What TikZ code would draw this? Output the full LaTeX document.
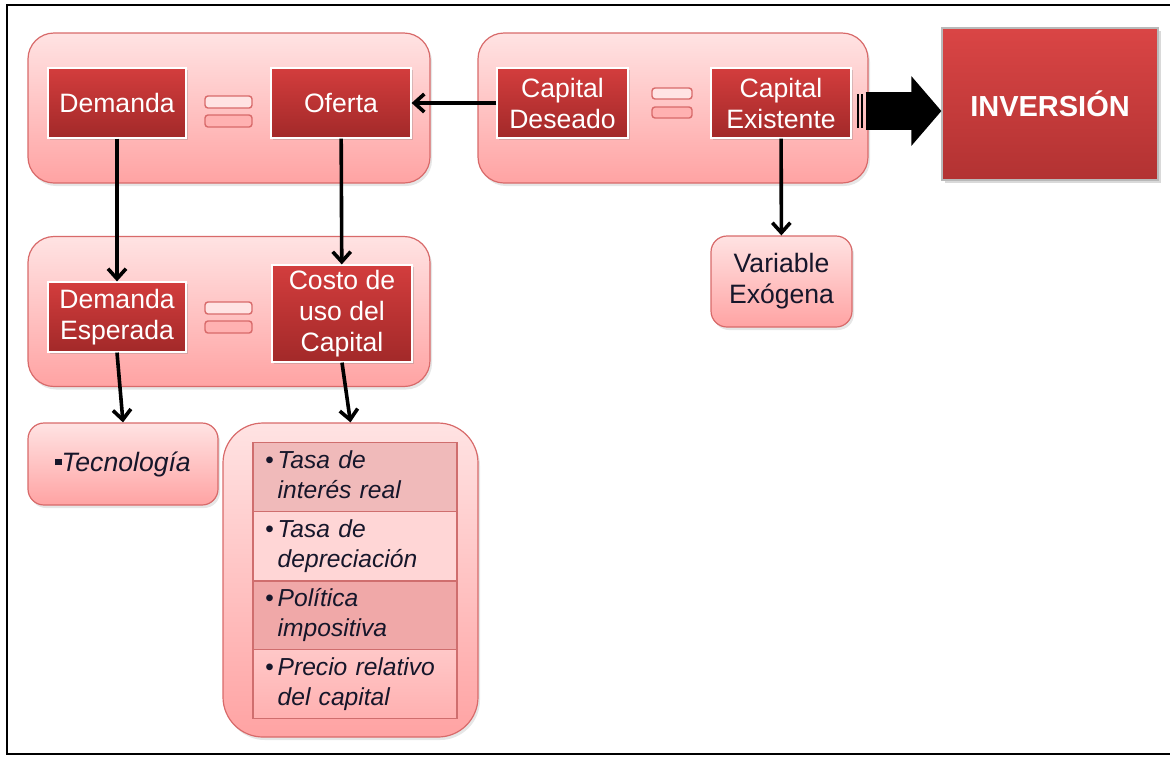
\documentclass[tikz,border=0pt]{standalone}
\usepackage{fontspec}
\setmainfont{Liberation Sans}
\usetikzlibrary{arrows.meta,shadows}

\definecolor{grupoarriba}{HTML}{FFE3E3}
\definecolor{grupoabajo}{HTML}{FFA3A3}
\definecolor{grupoborde}{HTML}{D86A6A}
\definecolor{rojoarriba}{HTML}{D33D3D}
\definecolor{rojoabajo}{HTML}{A22929}
\definecolor{invarriba}{HTML}{DA4545}
\definecolor{invabajo}{HTML}{B23232}
\definecolor{filaborde}{HTML}{CF6E6E}
\definecolor{filauno}{HTML}{F0BABA}
\definecolor{filados}{HTML}{FFD6D6}
\definecolor{filatres}{HTML}{F0A8A8}
\definecolor{filacuatroa}{HTML}{FFC8C8}
\definecolor{filacuatrob}{HTML}{FFB0B0}
\definecolor{textoosc}{HTML}{16162A}

\newcommand{\vineta}[2]{\begin{tabular}{@{}l@{\,}l@{}}\textbullet&#1\\&#2\end{tabular}}

\begin{document}
\begin{tikzpicture}[x=0.5pt,y=-0.5pt,
	grupo/.style={draw=grupoborde,line width=0.6pt,rounded corners=13pt,top color=grupoarriba,bottom color=grupoabajo,inner sep=0pt,drop shadow={shadow xshift=1pt,shadow yshift=-1.5pt,opacity=0.2}},
	caja/.style={draw=white,line width=0.6pt,top color=rojoarriba,bottom color=rojoabajo,text=white,align=center,inner sep=0pt,font=\fontsize{13.3}{15.5}\selectfont,drop shadow={shadow xshift=1pt,shadow yshift=-1pt,opacity=0.3}},
	rosa/.style={grupo,rounded corners=8pt,text=textoosc,align=center,font=\fontsize{13.3}{15.5}\selectfont},
	fila/.style={draw=filaborde,line width=0.6pt,inner xsep=6pt,inner ysep=0pt,text width=90pt,minimum height=34.5pt,align=left,text=textoosc,font=\itshape\fontsize{12.3}{15}\selectfont},
	barraclara/.style={draw=grupoborde,line width=0.7pt,rounded corners=1.5pt,fill=grupoarriba},
	barraosc/.style={draw=grupoborde,line width=0.7pt,rounded corners=1.5pt,fill=grupoabajo!85!white},
	flecha/.style={-{Straight Barb[length=5pt,width=9pt]},line width=1.8pt},
	flechagrande/.style={-{Triangle[length=15pt,width=34pt]},line width=19pt}
	]
	
	\useasboundingbox (0,0) rectangle (1170,757);
	\draw[line width=1.3pt] (1172,5) -- (7,5) -- (7,754) -- (1172,754);
	
	% grupos
	\node[grupo,minimum width=201pt,minimum height=75pt] (grpA) at (229,108) {};
	\node[grupo,minimum width=195pt,minimum height=75pt] (grpB) at (673,108) {};
	\node[grupo,minimum width=201pt,minimum height=75pt] (grpC) at (229,311.5) {};
	
	\node[caja,minimum width=69pt,minimum height=35pt] (dem) at (117,103) {Demanda};
	\node[caja,minimum width=70pt,minimum height=35pt] (ofe) at (341,103) {Oferta};
	\node[caja,minimum width=65.5pt,minimum height=35pt] (capdes) at (562.5,103) {Capital\\Deseado};
	\node[caja,minimum width=70pt,minimum height=35pt] (capex) at (781,103) {Capital\\Existente};
	\node[caja,minimum width=69pt,minimum height=35pt] (demesp) at (117,317) {Demanda\\Esperada};
	\node[caja,minimum width=70pt,minimum height=48.5pt] (costo) at (342,313.5) {Costo de\\uso del\\Capital};
	
	% signos igual
	\draw[barraclara] (205,96) rectangle (252,108);
	\draw[barraosc] (205,115) rectangle (252,127);
	\draw[barraclara] (652,88) rectangle (692,99);
	\draw[barraosc] (652,107) rectangle (692,118);
	\draw[barraclara] (205,302) rectangle (252,314);
	\draw[barraosc] (205,321) rectangle (252,333);
	
	\node[draw=gray!55,line width=0.6pt,top color=invarriba,bottom color=invabajo,minimum width=108pt,minimum height=76pt,inner sep=0pt,text=white,font=\bfseries\fontsize{14.5}{17}\selectfont,drop shadow={shadow xshift=1.5pt,shadow yshift=-1.5pt,opacity=0.3}] (inv) at (1050,104) {INVERSIÓN};
	
	\node[rosa,minimum width=70.5pt,minimum height=45.5pt] (varexo) at (781.5,281.5) {Variable\\Exógena};
	\node[rosa,minimum width=95pt,minimum height=41pt,font=\itshape\fontsize{13.3}{15.5}\selectfont] (tecno) at (123,464) {\rule[0.22em]{0.24em}{0.24em}Tecnología};
	\node[grupo,rounded corners=20pt,minimum width=127.5pt,minimum height=157pt] (lista) at (350.5,580) {};
	
	\node[fila,fill=filauno] (fila1) at (355,477) {\vineta{Tasa de}{interés real}};
	\node[fila,fill=filados] (fila2) at (355,546) {\vineta{Tasa de}{depreciación}};
	\node[fila,fill=filatres] (fila3) at (355,615.5) {\vineta{Política}{impositiva}};
	\node[fila,top color=filacuatroa,bottom color=filacuatrob] (fila4) at (355,684) {\vineta{Precio relativo}{del capital}};
	
	% flechas
	\draw[flecha] (capdes) -- (ofe);
	\draw[flecha] (dem) -- (demesp);
	\draw[flecha] (ofe) -- (costo);
	\draw[flecha] (demesp.south) -- (tecno.north);
	\draw[flecha] (costo.south) -- (lista.north);
	\draw[flecha] (capex) -- (varexo);
	
	\fill (857,94) rectangle (859,128);
	\fill (861,94) rectangle (863,128);
	\draw[flechagrande] ([xshift=7pt,yshift=-4pt]capex.east) -- ([yshift=-4pt]capex.east -| inv.west);
	
\end{tikzpicture}
\end{document}
